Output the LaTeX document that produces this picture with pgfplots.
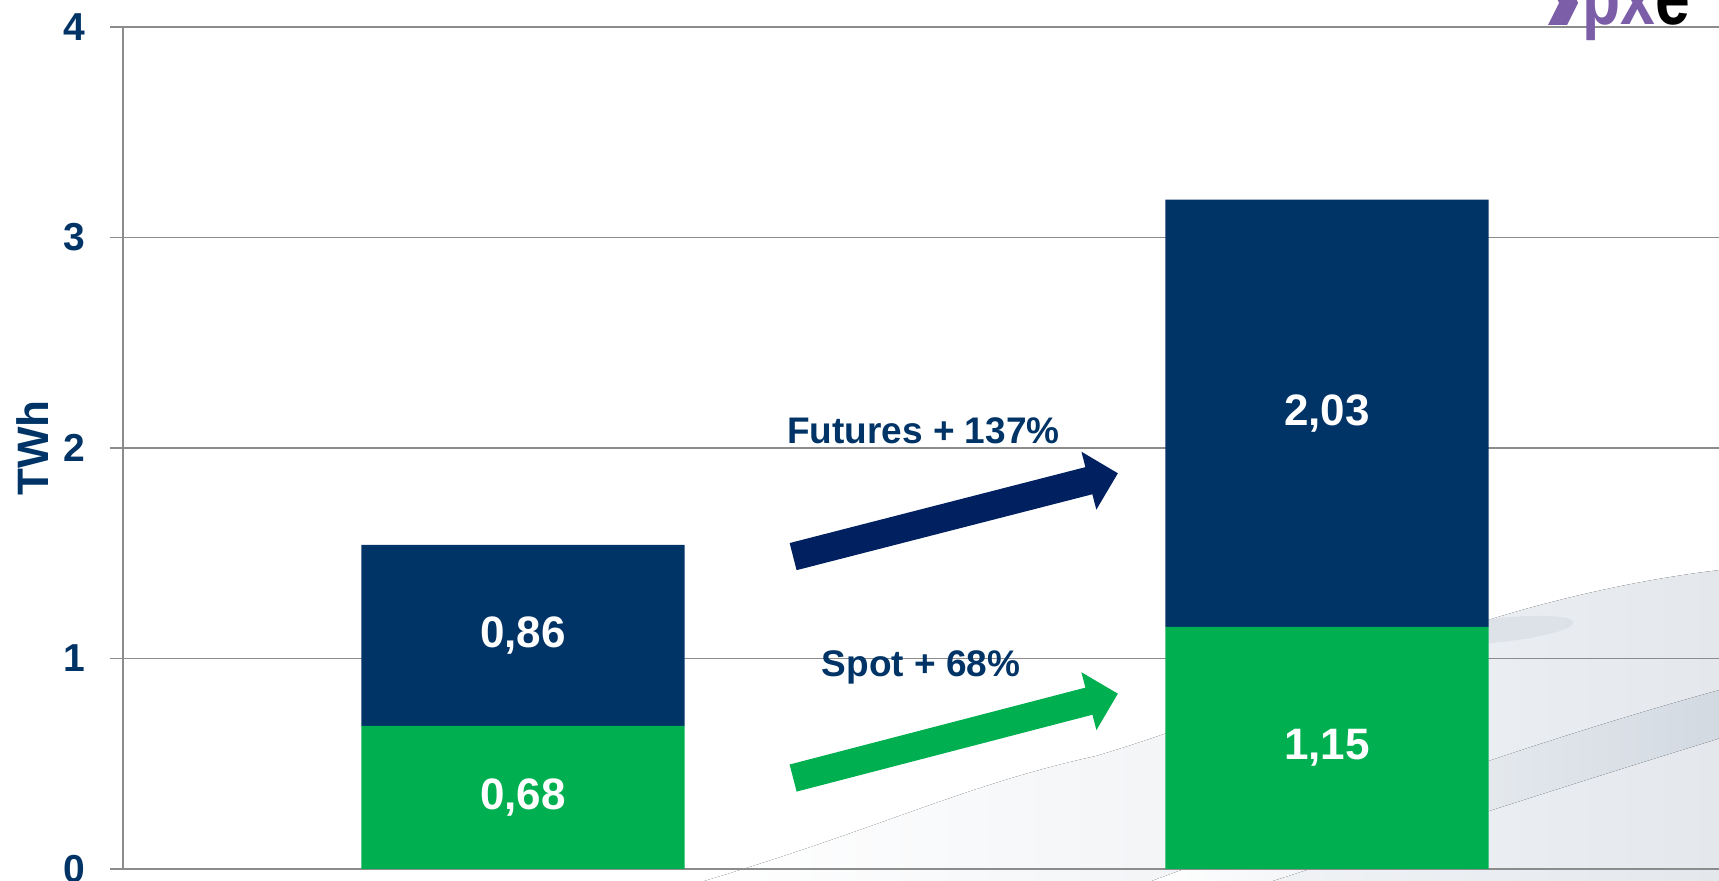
\documentclass[border=0pt]{standalone}
\usepackage{pgfplots}
\pgfplotsset{compat=1.18}
\usepackage{fontspec}
\setmainfont{Liberation Sans}
\usetikzlibrary{arrows.meta}
\definecolor{navy}{HTML}{003366}
\definecolor{darknavy}{HTML}{002060}
\definecolor{grn}{HTML}{00B050}
\definecolor{pxepurple}{HTML}{7B5EA7}
\definecolor{gridgray}{HTML}{8C8C8C}
\definecolor{swoosh}{HTML}{E4E8ED}
\definecolor{swooshdark}{HTML}{D2D9E1}
\pgfplotsset{common/.style={
 at={(0,0)}, anchor=south west,
 scale only axis, width=798pt, height=421pt,
 xmin=0.5025, xmax=2.4876, ymin=0, ymax=4, clip=false}}
\begin{document}
\begin{tikzpicture}
\useasboundingbox (-61.5pt,-6pt) rectangle (798pt,434.5pt);
\clip (-61.5pt,-6pt) rectangle (798pt,434.5pt);
% decorative background swoosh
\begin{axis}[common, hide axis]
\fill[left color=white, right color=swoosh, shading angle=90] (axis cs:1.223,-0.06) .. controls (axis cs:1.45,0.2) and (axis cs:1.55,0.4) .. (axis cs:1.713,0.537) .. controls (axis cs:1.9,0.75) and (axis cs:2.05,1.05) .. (axis cs:2.204,1.187) .. controls (axis cs:2.3,1.3) and (axis cs:2.4,1.38) .. (axis cs:2.488,1.42) -- (axis cs:2.488,-0.06) -- cycle;
\fill[left color=white, right color=swooshdark, shading angle=90] (axis cs:1.78,-0.06) .. controls (axis cs:2.0,0.25) and (axis cs:2.25,0.6) .. (axis cs:2.488,0.85) -- (axis cs:2.488,0.62) .. controls (axis cs:2.3,0.4) and (axis cs:2.1,0.15) .. (axis cs:1.93,-0.06) -- cycle;
\fill[swooshdark, opacity=0.5] (axis cs:2.215,1.135) ellipse [x radius=37pt, y radius=6pt, rotate=6];
\end{axis}
\begin{axis}[common,
 ybar stacked, bar width=0.402,
 axis x line=bottom, axis y line=left,
 axis line style={gridgray, line width=1pt, -},
 xtick=\empty, ytick={0,1,2,3,4},
 ymajorgrids, grid style={gridgray, line width=0.75pt},
 tick align=outside, major tick length=6.5pt,
 tick style={gridgray, line width=0.75pt},
 yticklabel style={font=\fontsize{19.5}{22}\selectfont\bfseries, text=navy, xshift=-9pt},
 /pgf/number format/assume math mode=true,
 ylabel={TWh},
 ylabel style={font=\fontsize{22}{26}\selectfont\bfseries, text=navy,
   at={(axis description cs:0,0.5)}, anchor=center, yshift=45pt},
]
\addplot[fill=grn, draw=none] coordinates {(1,0.68) (2,1.15)};
\addplot[fill=navy, draw=none] coordinates {(1,0.86) (2,2.03)};
\coordinate (a) at (axis cs:1,0.34);
\coordinate (b) at (axis cs:1,1.11);
\coordinate (c) at (axis cs:2,0.575);
\coordinate (d) at (axis cs:2,2.165);
\coordinate (f0) at (axis cs:1.336,1.484);
\coordinate (f1) at (axis cs:1.740,1.880);
\coordinate (s0) at (axis cs:1.336,0.432);
\coordinate (s1) at (axis cs:1.740,0.833);
\coordinate (ft) at (axis cs:1.498,2.083);
\coordinate (st) at (axis cs:1.495,0.958);
\coordinate (logo) at (axis cs:2.275,4.01);
\end{axis}
\node[text=white, font=\fontsize{22}{24}\selectfont\bfseries] at (a) {0,68};
\node[text=white, font=\fontsize{22}{24}\selectfont\bfseries] at (b) {0,86};
\node[text=white, font=\fontsize{22}{24}\selectfont\bfseries] at (c) {1,15};
\node[text=white, font=\fontsize{22}{24}\selectfont\bfseries] at (d) {2,03};
\draw[darknavy, line width=14pt, -{Triangle[width=29pt,length=15pt]}] (f0) -- (f1);
\draw[grn, line width=14pt, -{Triangle[width=29pt,length=15pt]}] (s0) -- (s1);
\node[text=navy, font=\fontsize{18.5}{22}\selectfont\bfseries] at (ft) {Futures + 137\%};
\node[text=navy, font=\fontsize{18.5}{22}\selectfont\bfseries] at (st) {Spot + 68\%};
\fill[pxepurple] (logo) -- ++(9.5pt,0pt) -- ++(5.5pt,11pt) -- ++(-5.5pt,11pt) -- ++(-9.5pt,0pt) -- ++(5.5pt,-11pt) -- cycle;
\node[anchor=base west, inner sep=0pt] at ([xshift=17pt]logo) {\scalebox{0.8}[1]{\fontsize{39}{44}\selectfont\bfseries\textcolor{pxepurple}{px}e}};
\end{tikzpicture}
\end{document}
